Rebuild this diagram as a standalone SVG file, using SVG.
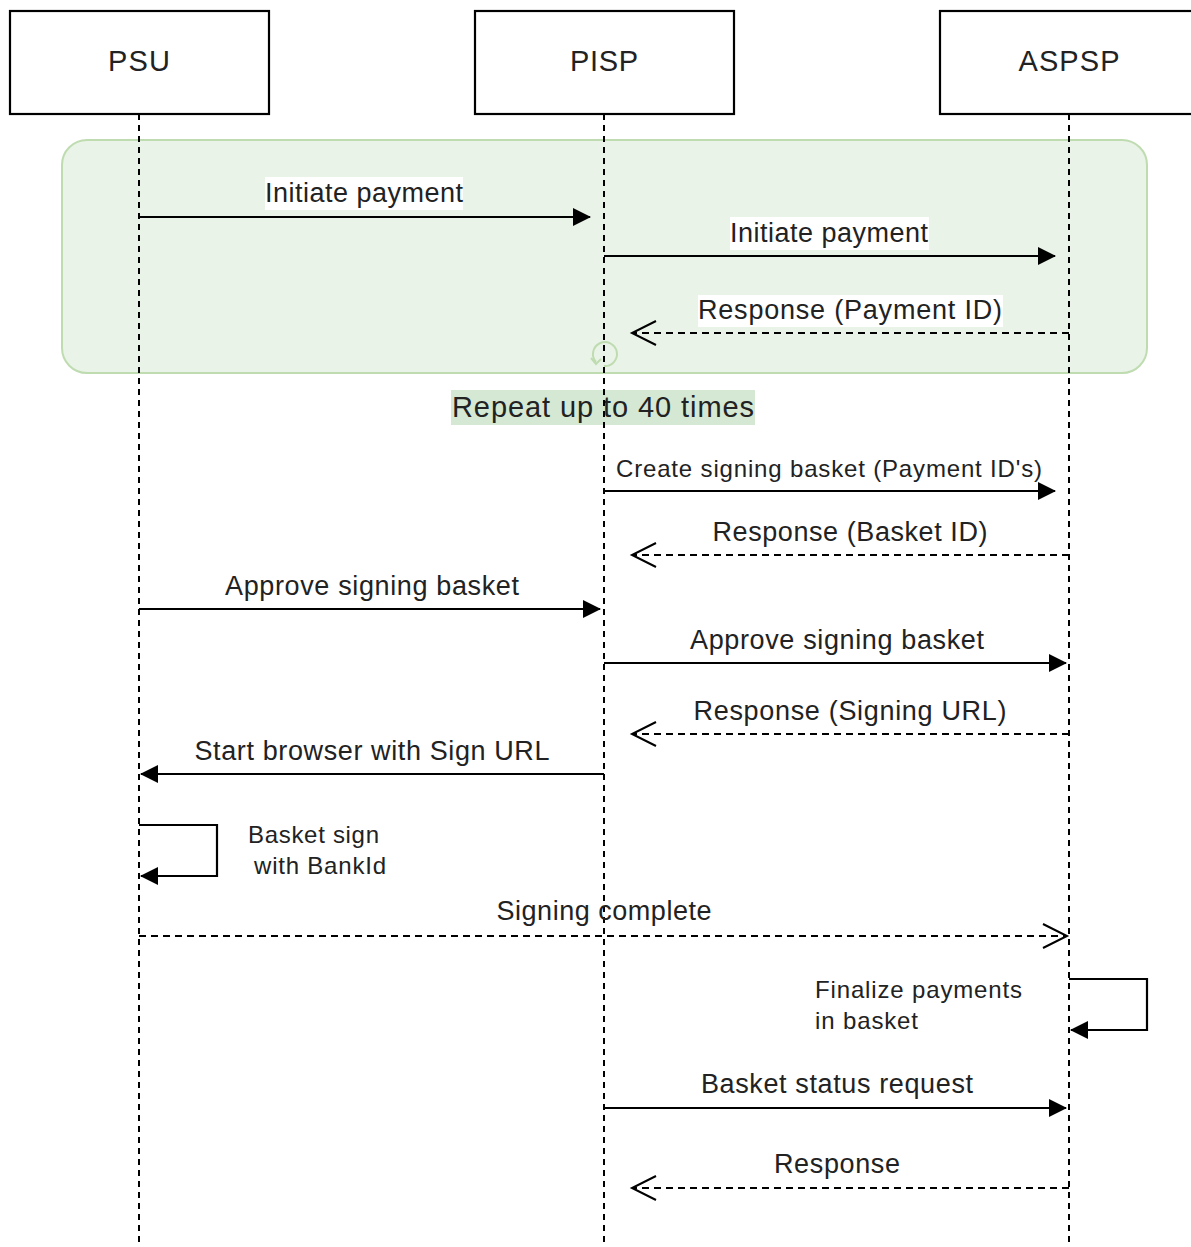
<svg xmlns="http://www.w3.org/2000/svg" width="1191" height="1247" viewBox="0 0 1191 1247">
<defs>
<style>
.box{fill:#fff;stroke:#000;stroke-width:2.2}
.hdr{font-family:"Liberation Sans",Arial,sans-serif;font-size:29px;fill:#222;text-anchor:middle}
.lbl{font-family:"Liberation Sans",Arial,sans-serif;font-size:27px;fill:#222;text-anchor:middle}
.sm{font-family:"Liberation Sans",Arial,sans-serif;font-size:24px;fill:#222}
.life{stroke:#000;stroke-width:2;stroke-dasharray:6 5;fill:none}
.msg{stroke:#000;stroke-width:2.2;fill:none}
.ret{stroke:#000;stroke-width:2;fill:none;stroke-dasharray:7 5}
.bg{fill:#fff}
</style>
<marker id="fill" viewBox="0 0 20 20" refX="18" refY="10" markerWidth="20" markerHeight="20" markerUnits="userSpaceOnUse" orient="auto">
<path d="M1,1 L19,10 L1,19 Z" fill="#000"/>
</marker>
<marker id="open" viewBox="0 0 30 30" refX="27" refY="15" markerWidth="30" markerHeight="30" markerUnits="userSpaceOnUse" orient="auto">
<path d="M3,3 L27,15 L3,27" fill="none" stroke="#000" stroke-width="2"/>
</marker>
</defs>
<rect width="1191" height="1247" fill="#fff"/>

<g id="loop">
<rect x="62" y="140" width="1085" height="233" rx="25" ry="25" fill="#e9f3e7" stroke="#bfdcb1" stroke-width="2"/>
<path d="M596,362 A12,12 0 1 1 604,366" fill="none" stroke="#bfdcb1" stroke-width="2"/>
<path d="M591,358 L596,364 L601,359" fill="none" stroke="#bfdcb1" stroke-width="2"/>
<rect x="451" y="390" width="304" height="35" fill="#d5e8d4"/>
<text x="603" y="417" class="hdr" textLength="302">Repeat up to 40 times</text>
</g>

<g id="PSU">
<rect class="box" x="10" y="11" width="259" height="103"/>
<text class="hdr" x="139" y="71" textLength="62">PSU</text>
</g>
<g id="PISP">
<rect class="box" x="475" y="11" width="259" height="103"/>
<text class="hdr" x="604" y="71" textLength="68">PISP</text>
</g>
<g id="ASPSP">
<rect class="box" x="940" y="11" width="262" height="103"/>
<text class="hdr" x="1069" y="71" textLength="101">ASPSP</text>
</g>

<g id="lifelines">
<line class="life" x1="139" y1="114" x2="139" y2="1247"/>
<line class="life" x1="604" y1="114" x2="604" y2="1247"/>
<line class="life" x1="1069" y1="114" x2="1069" y2="1247"/>
</g>

<g id="connectors">
<line class="msg" x1="139" y1="217" x2="590" y2="217" marker-end="url(#fill)"/>
<line class="msg" x1="604" y1="256" x2="1055" y2="256" marker-end="url(#fill)"/>
<line class="ret" x1="1069" y1="333" x2="632" y2="333" marker-end="url(#open)"/>
<line class="msg" x1="604" y1="491" x2="1055" y2="491" marker-end="url(#fill)"/>
<line class="ret" x1="1069" y1="555" x2="632" y2="555" marker-end="url(#open)"/>
<line class="msg" x1="139" y1="609" x2="600" y2="609" marker-end="url(#fill)"/>
<line class="msg" x1="604" y1="663" x2="1066" y2="663" marker-end="url(#fill)"/>
<line class="ret" x1="1069" y1="734" x2="632" y2="734" marker-end="url(#open)"/>
<line class="msg" x1="604" y1="774" x2="141" y2="774" marker-end="url(#fill)"/>
<path class="msg" d="M139,825 L217,825 L217,876 L141,876" marker-end="url(#fill)"/>
<line class="ret" x1="139" y1="936" x2="1067" y2="936" marker-end="url(#open)"/>
<path class="msg" d="M1069,979 L1147,979 L1147,1030 L1071,1030" marker-end="url(#fill)"/>
<line class="msg" x1="604" y1="1108" x2="1066" y2="1108" marker-end="url(#fill)"/>
<line class="ret" x1="1069" y1="1188" x2="632" y2="1188" marker-end="url(#open)"/>
</g>

<g id="labels">
<rect class="bg" x="265" y="177" width="198" height="33"/>
<text class="lbl" x="364" y="202" textLength="198">Initiate payment</text>
<rect class="bg" x="730" y="217" width="199" height="33"/>
<text class="lbl" x="829" y="242" textLength="198">Initiate payment</text>
<rect class="bg" x="698" y="295" width="305" height="32"/>
<text class="lbl" x="850" y="319" textLength="304">Response (Payment ID)</text>
<text class="lbl" x="829" y="477" style="font-size:24px" textLength="426">Create signing basket (Payment ID's)</text>
<text class="lbl" x="850" y="541" textLength="275">Response (Basket ID)</text>
<text class="lbl" x="372" y="595" textLength="294">Approve signing basket</text>
<text class="lbl" x="837" y="649" textLength="294">Approve signing basket</text>
<text class="lbl" x="850" y="720" textLength="313">Response (Signing URL)</text>
<text class="lbl" x="372" y="760" textLength="355">Start browser with Sign URL</text>
<text class="sm" x="248" y="843" textLength="131">Basket sign</text>
<text class="sm" x="254" y="874" textLength="132">with BankId</text>
<text class="lbl" x="604" y="920" textLength="215">Signing complete</text>
<text class="sm" x="815" y="998" textLength="207">Finalize payments</text>
<text class="sm" x="815" y="1029" textLength="103">in basket</text>
<text class="lbl" x="837" y="1093" textLength="272">Basket status request</text>
<text class="lbl" x="837" y="1173" textLength="126">Response</text>
</g>
</svg>
